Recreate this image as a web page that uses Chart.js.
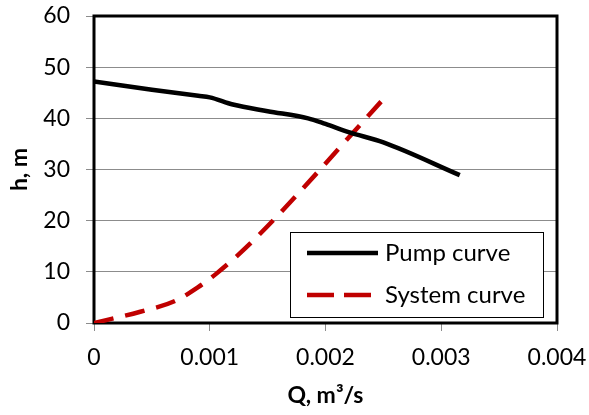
<!DOCTYPE html>
<html>
<head>
<meta charset="utf-8">
<script src="https://cdn.jsdelivr.net/npm/chart.js@4"></script>
<style>
  html, body { margin: 0; padding: 0; background: #fff; }
  #wrap { width: 589px; height: 415px; }
</style>
</head>
<body>
<div id="wrap"><canvas id="pumpChart" width="589" height="415"></canvas></div>
<script>
// data
const pumpQ = [0, 0.0005, 0.0009, 0.001, 0.0012, 0.0015, 0.00185, 0.002, 0.0022, 0.0025, 0.00316];
const pumpH = [47.2, 45.6, 44.4, 44.1, 42.7, 41.4, 40.0, 38.9, 37.3, 35.3, 28.9];
const sysQ = [0, 0.0004, 0.0007, 0.0009, 0.00106, 0.00138, 0.00253];
const sysH = [0, 2.2, 4.3, 7.0, 9.7, 16.2, 44.5];
const xTickLabels = ['0', '0.001', '0.002', '0.003', '0.004'];
const yTickLabels = ['0', '10', '20', '30', '40', '50', '60'];
const seriesNames = ['Pump curve', 'System curve'];

const FONT = "Lato, 'Open Sans', sans-serif";
Chart.defaults.font.family = FONT;
Chart.defaults.color = '#000';

const toPoints = (xs, ys) => xs.map((x, i) => ({ x: x, y: ys[i] }));

// frame round the plot area + boxed legend inside it
const framePlugin = {
    id: 'frame',
    beforeDatasetsDraw(chart) {
        const { ctx, chartArea: a } = chart;
        ctx.save();
        ctx.strokeStyle = '#000';
        ctx.lineWidth = 3;
        ctx.strokeRect(a.left, a.top, a.right - a.left, a.bottom - a.top);
        ctx.restore();
    },
    afterDatasetsDraw(chart) {
        const { ctx, chartArea: a } = chart;
        const bx = a.left + 196, by = a.top + 216, bw = 253, bh = 85;
        ctx.save();
        ctx.fillStyle = '#fff';
        ctx.fillRect(bx, by, bw, bh);
        ctx.strokeStyle = '#000';
        ctx.lineWidth = 1;
        ctx.strokeRect(bx + 0.5, by + 0.5, bw, bh);
        chart.data.datasets.forEach((ds, i) => {
            const cy = by + 21 + i * 42;
            ctx.beginPath();
            ctx.strokeStyle = ds.borderColor;
            ctx.lineWidth = ds.borderWidth;
            ctx.setLineDash(i === 1 ? [27, 10] : []);
            ctx.moveTo(bx + 17, cy);
            ctx.lineTo(bx + 88, cy);
            ctx.stroke();
            ctx.setLineDash([]);
            ctx.fillStyle = '#000';
            ctx.font = '24px ' + FONT;
            ctx.textBaseline = 'middle';
            ctx.fillText(ds.label, bx + 95, cy);
        });
        ctx.restore();
    }
};

const ctx = document.getElementById('pumpChart').getContext('2d');
new Chart(ctx, {
    type: 'line',
    data: {
        datasets: [
            {
                label: seriesNames[0],
                data: toPoints(pumpQ, pumpH),
                borderColor: '#000000',
                borderWidth: 4.5,
                pointRadius: 0,
                cubicInterpolationMode: 'monotone'
            },
            {
                label: seriesNames[1],
                data: toPoints(sysQ, sysH),
                borderColor: '#C00000',
                borderWidth: 4.5,
                borderDash: [20, 12],
                pointRadius: 0,
                cubicInterpolationMode: 'monotone'
            }
        ]
    },
    options: {
        responsive: false,
        animation: false,
        layout: { padding: { left: 0, right: 32, top: 16, bottom: 0 } },
        plugins: { legend: { display: false }, tooltip: { enabled: false } },
        scales: {
            x: {
                type: 'linear',
                min: 0, max: 0.004,
                afterFit: (axis) => {
                    axis.height = 92;
                    axis.paddingLeft = 0;
                    axis.paddingRight = 0;
                },
                ticks: {
                    stepSize: 0.001,
                    padding: 13,
                    font: { size: 23 },
                    maxRotation: 0,
                    callback: (v, i) => xTickLabels[i]
                },
                grid: { drawOnChartArea: false, drawTicks: true, tickLength: 8, color: '#8c8c8c' },
                border: { display: false },
                title: {
                    display: true,
                    text: 'Q, m³/s',
                    font: { size: 23, weight: 'bold' },
                    padding: { top: 0, bottom: 6 }
                }
            },
            y: {
                min: 0, max: 60,
                afterFit: (axis) => {
                    axis.width = 94;
                    axis.paddingTop = 0;
                    axis.paddingBottom = 0;
                },
                ticks: {
                    stepSize: 10,
                    padding: 16,
                    font: { size: 23 },
                    callback: (v, i) => yTickLabels[i]
                },
                grid: { color: '#8c8c8c', tickLength: 8 },
                border: { display: false },
                title: {
                    display: true,
                    text: 'h, m',
                    font: { size: 23, weight: 'bold' },
                    padding: { top: 6, bottom: 0 }
                }
            }
        }
    },
    plugins: [framePlugin]
});
</script>
</body>
</html>
